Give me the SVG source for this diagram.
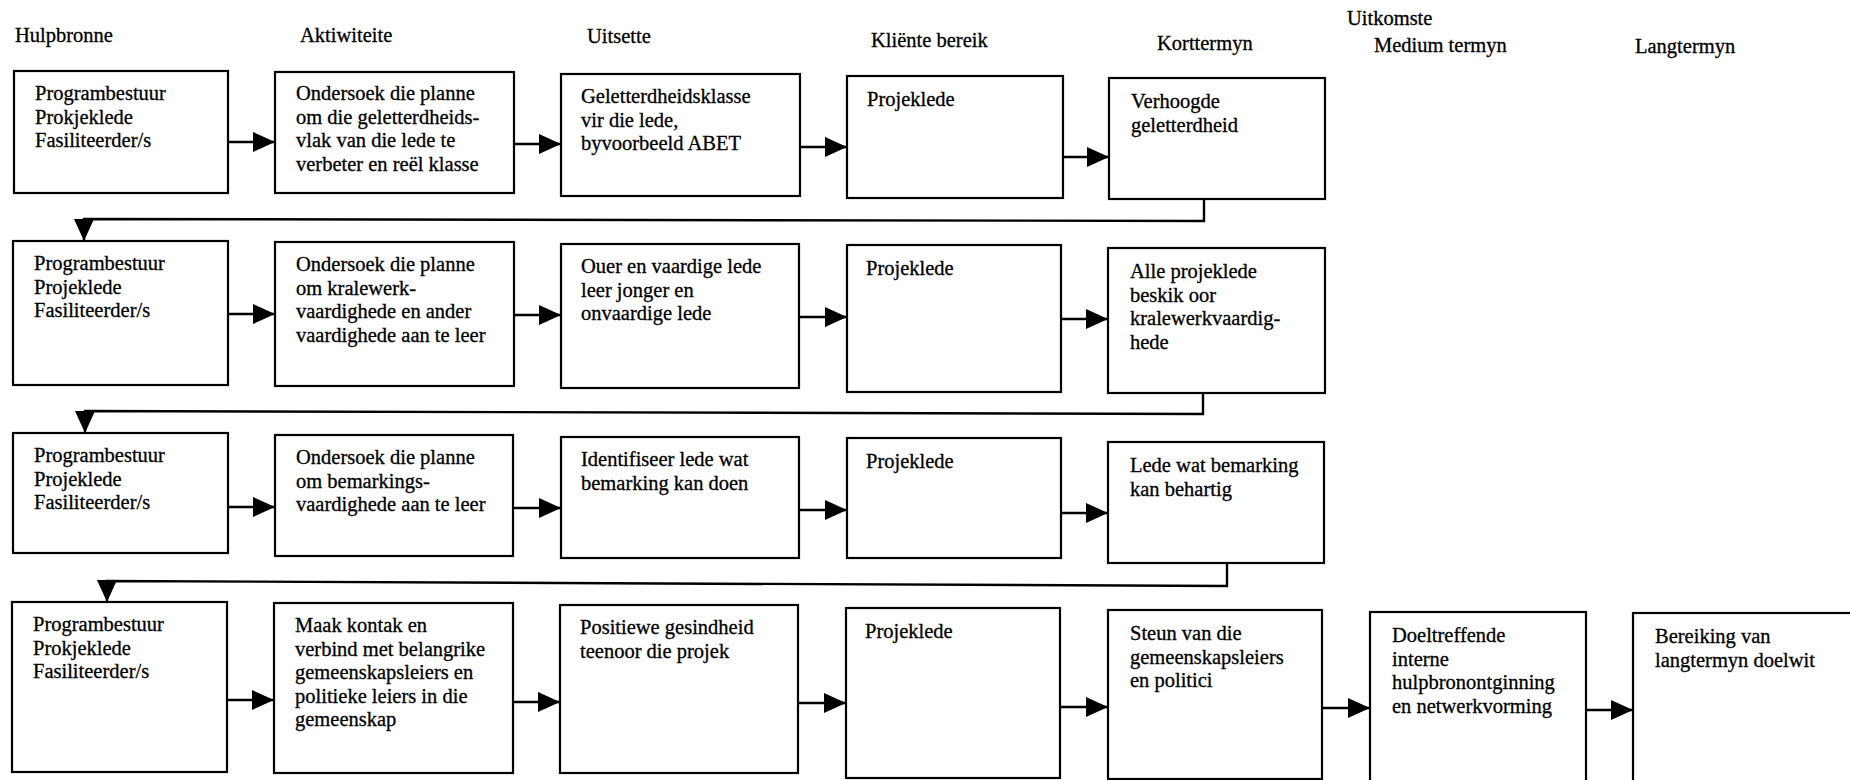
<svg xmlns="http://www.w3.org/2000/svg" width="1850" height="780" viewBox="0 0 1850 780">
  <style>
    text { font-family: "Liberation Serif", "Times New Roman", serif; font-size: 20.5px; fill: #000; stroke: #000; stroke-width: 0.3; }
    .box { fill: #fff; stroke: #000; stroke-width: 2.2; }
    .flow { fill: none; stroke: #000; stroke-width: 2.6; marker-end: url(#arrow); }
    .ret { fill: none; stroke: #000; stroke-width: 2.4; marker-end: url(#arrow); }
  </style>
  <defs>
    <marker id="arrow" markerUnits="userSpaceOnUse" markerWidth="22" markerHeight="20" refX="22" refY="10" orient="auto">
      <path d="M0,0 L22,10 L0,20 Z" fill="#000"/>
    </marker>
  </defs>
  <rect width="1850" height="780" fill="#fff"/>

  <!-- column headings -->
  <g id="headings">
    <text x="15" y="42">Hulpbronne</text>
    <text x="300" y="42">Aktiwiteite</text>
    <text x="587" y="43">Uitsette</text>
    <text x="871" y="47">Kliënte bereik</text>
    <text x="1157" y="50">Korttermyn</text>
    <text x="1347" y="25">Uitkomste</text>
    <text x="1374" y="52">Medium termyn</text>
    <text x="1635" y="53">Langtermyn</text>
  </g>

  <!-- connectors -->
  <g id="connectors">
    <!-- row 1 -->
    <line class="flow" x1="228" y1="142" x2="275" y2="142"/>
    <line class="flow" x1="514" y1="144" x2="561" y2="144"/>
    <line class="flow" x1="800" y1="147" x2="847" y2="147"/>
    <line class="flow" x1="1063" y1="157" x2="1109" y2="157"/>
    <polyline class="ret" points="1204,199 1204,221 84,219 84,241"/>
    <!-- row 2 -->
    <line class="flow" x1="228" y1="314" x2="275" y2="314"/>
    <line class="flow" x1="514" y1="315" x2="561" y2="315"/>
    <line class="flow" x1="799" y1="317" x2="847" y2="317"/>
    <line class="flow" x1="1061" y1="319" x2="1108" y2="319"/>
    <polyline class="ret" points="1203,393 1203,414 85,411 85,433"/>
    <!-- row 3 -->
    <line class="flow" x1="228" y1="507" x2="275" y2="507"/>
    <line class="flow" x1="513" y1="508" x2="561" y2="508"/>
    <line class="flow" x1="799" y1="510" x2="847" y2="510"/>
    <line class="flow" x1="1061" y1="513" x2="1108" y2="513"/>
    <polyline class="ret" points="1227,563 1227,586 107,581 107,602"/>
    <!-- row 4 -->
    <line class="flow" x1="227" y1="700" x2="274" y2="700"/>
    <line class="flow" x1="513" y1="702" x2="560" y2="702"/>
    <line class="flow" x1="798" y1="703" x2="846" y2="703"/>
    <line class="flow" x1="1060" y1="707" x2="1108" y2="707"/>
    <line class="flow" x1="1322" y1="708" x2="1370" y2="708"/>
    <line class="flow" x1="1586" y1="710" x2="1633" y2="710"/>
  </g>

  <!-- row 1 -->
  <g id="r1-hulpbronne">
    <rect class="box" x="14" y="71" width="214" height="122"/>
    <text x="35" y="100">Programbestuur<tspan x="35" dy="23.5">Prokjeklede</tspan><tspan x="35" dy="23.5">Fasiliteerder/s</tspan></text>
  </g>
  <g id="r1-aktiwiteit">
    <rect class="box" x="275" y="72" width="239" height="121"/>
    <text x="296" y="100">Ondersoek die planne<tspan x="296" dy="23.5">om die geletterdheids-</tspan><tspan x="296" dy="23.5">vlak van die lede te</tspan><tspan x="296" dy="23.5">verbeter en reël klasse</tspan></text>
  </g>
  <g id="r1-uitset">
    <rect class="box" x="561" y="74" width="239" height="122"/>
    <text x="581" y="103">Geletterdheidsklasse<tspan x="581" dy="23.5">vir die lede,</tspan><tspan x="581" dy="23.5">byvoorbeeld ABET</tspan></text>
  </g>
  <g id="r1-kliente">
    <rect class="box" x="847" y="76" width="216" height="122"/>
    <text x="867" y="106">Projeklede</text>
  </g>
  <g id="r1-korttermyn">
    <rect class="box" x="1109" y="78" width="216" height="121"/>
    <text x="1131" y="108">Verhoogde<tspan x="1131" dy="23.5">geletterdheid</tspan></text>
  </g>

  <!-- row 2 -->
  <g id="r2-hulpbronne">
    <rect class="box" x="13" y="241" width="215" height="144"/>
    <text x="34" y="270">Programbestuur<tspan x="34" dy="23.5">Projeklede</tspan><tspan x="34" dy="23.5">Fasiliteerder/s</tspan></text>
  </g>
  <g id="r2-aktiwiteit">
    <rect class="box" x="275" y="242" width="239" height="144"/>
    <text x="296" y="271">Ondersoek die planne<tspan x="296" dy="23.5">om kralewerk-</tspan><tspan x="296" dy="23.5">vaardighede en ander</tspan><tspan x="296" dy="23.5">vaardighede aan te leer</tspan></text>
  </g>
  <g id="r2-uitset">
    <rect class="box" x="561" y="244" width="238" height="144"/>
    <text x="581" y="273">Ouer en vaardige lede<tspan x="581" dy="23.5">leer jonger en</tspan><tspan x="581" dy="23.5">onvaardige lede</tspan></text>
  </g>
  <g id="r2-kliente">
    <rect class="box" x="847" y="245" width="214" height="147"/>
    <text x="866" y="275">Projeklede</text>
  </g>
  <g id="r2-korttermyn">
    <rect class="box" x="1108" y="248" width="217" height="145"/>
    <text x="1130" y="278">Alle projeklede<tspan x="1130" dy="23.5">beskik oor</tspan><tspan x="1130" dy="23.5">kralewerkvaardig-</tspan><tspan x="1130" dy="23.5">hede</tspan></text>
  </g>

  <!-- row 3 -->
  <g id="r3-hulpbronne">
    <rect class="box" x="13" y="433" width="215" height="120"/>
    <text x="34" y="462">Programbestuur<tspan x="34" dy="23.5">Projeklede</tspan><tspan x="34" dy="23.5">Fasiliteerder/s</tspan></text>
  </g>
  <g id="r3-aktiwiteit">
    <rect class="box" x="275" y="435" width="238" height="121"/>
    <text x="296" y="464">Ondersoek die planne<tspan x="296" dy="23.5">om bemarkings-</tspan><tspan x="296" dy="23.5">vaardighede aan te leer</tspan></text>
  </g>
  <g id="r3-uitset">
    <rect class="box" x="561" y="437" width="238" height="121"/>
    <text x="581" y="466">Identifiseer lede wat<tspan x="581" dy="23.5">bemarking kan doen</tspan></text>
  </g>
  <g id="r3-kliente">
    <rect class="box" x="847" y="438" width="214" height="120"/>
    <text x="866" y="468">Projeklede</text>
  </g>
  <g id="r3-korttermyn">
    <rect class="box" x="1108" y="442" width="216" height="121"/>
    <text x="1130" y="472">Lede wat bemarking<tspan x="1130" dy="23.5">kan behartig</tspan></text>
  </g>

  <!-- row 4 -->
  <g id="r4-hulpbronne">
    <rect class="box" x="12" y="602" width="215" height="170"/>
    <text x="33" y="631">Programbestuur<tspan x="33" dy="23.5">Prokjeklede</tspan><tspan x="33" dy="23.5">Fasiliteerder/s</tspan></text>
  </g>
  <g id="r4-aktiwiteit">
    <rect class="box" x="274" y="603" width="239" height="170"/>
    <text x="295" y="632">Maak kontak en<tspan x="295" dy="23.5">verbind met belangrike</tspan><tspan x="295" dy="23.5">gemeenskapsleiers en</tspan><tspan x="295" dy="23.5">politieke leiers in die</tspan><tspan x="295" dy="23.5">gemeenskap</tspan></text>
  </g>
  <g id="r4-uitset">
    <rect class="box" x="560" y="605" width="238" height="168"/>
    <text x="580" y="634">Positiewe gesindheid<tspan x="580" dy="23.5">teenoor die projek</tspan></text>
  </g>
  <g id="r4-kliente">
    <rect class="box" x="846" y="608" width="214" height="170"/>
    <text x="865" y="638">Projeklede</text>
  </g>
  <g id="r4-korttermyn">
    <rect class="box" x="1108" y="610" width="214" height="169"/>
    <text x="1130" y="640">Steun van die<tspan x="1130" dy="23.5">gemeenskapsleiers</tspan><tspan x="1130" dy="23.5">en politici</tspan></text>
  </g>
  <g id="r4-mediumtermyn">
    <rect class="box" x="1370" y="612" width="216" height="190"/>
    <text x="1392" y="642">Doeltreffende<tspan x="1392" dy="23.5">interne</tspan><tspan x="1392" dy="23.5">hulpbronontginning</tspan><tspan x="1392" dy="23.5">en netwerkvorming</tspan></text>
  </g>
  <g id="r4-langtermyn">
    <rect class="box" x="1633" y="613" width="230" height="190"/>
    <text x="1655" y="643">Bereiking van<tspan x="1655" dy="23.5">langtermyn doelwit</tspan></text>
  </g>
</svg>
